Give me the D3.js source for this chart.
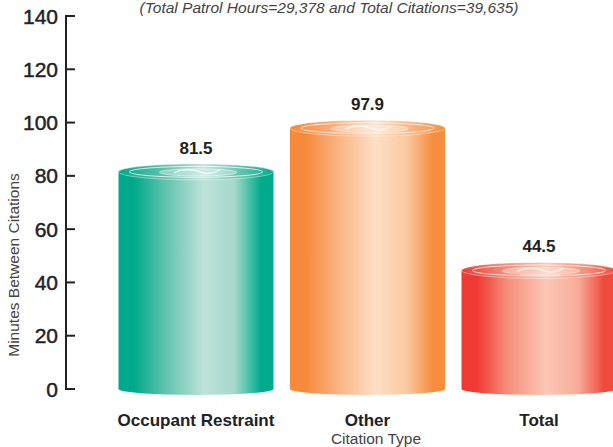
<!DOCTYPE html>
<html>
<head>
  <script src="https://cdn.jsdelivr.net/npm/d3@7"></script>
  <style>body { margin: 0; background: #fff } svg { display: block }</style>
</head>
<body>
  <div id="chart"></div>
  <script>
    // chart data
    const categories = ['Occupant Restraint', 'Other', 'Total'];
    const values = [81.5, 97.9, 44.5];
    const valueLabels = ['81.5', '97.9', '44.5'];
    const yTicks = [0, 20, 40, 60, 80, 100, 120, 140];
    const palettes = [
      ['#00a98b', '#5fc3ab', '#bde3d9', '#a4d8ca', '#00ab8c'],
      ['#f6893a', '#f9b17e', '#fddfc6', '#fbcaa2', '#f68d3f'],
      ['#ee3a33', '#f5907c', '#fbc8b6', '#f8ac99', '#ef4a3c']
    ];

    const width = 613, height = 447;
    const barW = 155, ryTop = 8, ryBot = 6;

    const svg = d3.select('#chart').append('svg')
      .attr('width', width).attr('height', height);

    const y = d3.scaleLinear().domain([0, 140]).range([389, 16]);
    const x = d3.scalePoint().domain(categories).range([196, 539]);

    const defs = svg.append('defs');
    palettes.forEach((p, i) => {
      const g = defs.append('linearGradient').attr('id', 'side' + i)
        .attr('x1', 0).attr('x2', 1).attr('y1', 0).attr('y2', 0);
      [[0, p[0]], [0.1, p[0]], [0.3, p[1]], [0.55, p[2]], [0.75, p[3]], [0.92, p[4]], [1, p[4]]]
        .forEach(s => g.append('stop').attr('offset', s[0]).attr('stop-color', s[1]));
      const t = defs.append('linearGradient').attr('id', 'top' + i)
        .attr('x1', 0).attr('x2', 1).attr('y1', 0).attr('y2', 0);
      [[0, p[0]], [0.3, p[1]], [0.55, p[2]], [0.8, p[1]], [1, p[4]]]
        .forEach(s => t.append('stop').attr('offset', s[0]).attr('stop-color', s[1]));
    });

    // y axis
    const axis = svg.append('g').attr('transform', 'translate(66,0)');
    axis.append('line').attr('x1', 0).attr('x2', 0)
      .attr('y1', y(140)).attr('y2', y(0))
      .attr('stroke', '#222').attr('stroke-width', 2);
    axis.selectAll('line.tick').data(yTicks).join('line')
      .attr('class', 'tick')
      .attr('x1', -1).attr('x2', 9)
      .attr('y1', d => y(d)).attr('y2', d => y(d))
      .attr('stroke', '#222').attr('stroke-width', 2);
    axis.selectAll('text').data(yTicks).join('text')
      .attr('x', -8).attr('y', d => y(d))
      .attr('dy', '0.36em')
      .attr('text-anchor', 'end')
      .attr('font-family', 'Liberation Sans, Arial, sans-serif')
      .attr('font-size', 21)
      .attr('fill', '#222')
      .attr('stroke', '#222').attr('stroke-width', 0.45)
      .text(d => d);

    // cylinders
    const bars = svg.selectAll('g.bar').data(categories).join('g').attr('class', 'bar');
    bars.each(function (c, i) {
      const g = d3.select(this);
      const cx = x(c), l = cx - barW / 2, r = cx + barW / 2, rx = barW / 2;
      const top = y(values[i]), bot = y(0);
      g.append('path')
        .attr('d', `M${l},${top} L${l},${bot} A${rx},${ryBot} 0 0 0 ${r},${bot} L${r},${top} Z`)
        .attr('fill', `url(#side${i})`);
      g.append('ellipse')
        .attr('cx', cx).attr('cy', top).attr('rx', rx).attr('ry', ryTop)
        .attr('fill', `url(#top${i})`)
        .attr('stroke', '#fff').attr('stroke-opacity', 0.5).attr('stroke-width', 0.8);
      g.append('ellipse')
        .attr('cx', cx).attr('cy', top).attr('rx', rx * 0.86).attr('ry', ryTop * 0.68)
        .attr('fill', 'none').attr('stroke', '#fff').attr('stroke-opacity', 0.75).attr('stroke-width', 1);
      g.append('ellipse')
        .attr('cx', cx + 2).attr('cy', top + 0.5).attr('rx', rx * 0.5).attr('ry', ryTop * 0.45)
        .attr('fill', '#fff').attr('fill-opacity', 0.3)
        .attr('stroke', '#fff').attr('stroke-opacity', 0.6).attr('stroke-width', 0.8);
      g.append('path')
        .attr('d', `M${cx - 22},${top + 1} q12,-6 26,-1 q10,4 20,-2`)
        .attr('fill', 'none').attr('stroke', '#fff').attr('stroke-opacity', 0.7).attr('stroke-width', 1.6);
      g.append('text')
        .attr('x', cx).attr('y', top - ryTop - 10)
        .attr('text-anchor', 'middle')
        .attr('font-family', 'Liberation Sans, Arial, sans-serif')
        .attr('font-weight', 'bold').attr('font-size', 17)
        .attr('fill', '#222')
        .text(valueLabels[i]);
    });

    // category labels
    svg.selectAll('text.cat').data(categories).join('text')
      .attr('class', 'cat')
      .attr('x', d => x(d)).attr('y', 426)
      .attr('text-anchor', 'middle')
      .attr('font-family', 'Liberation Sans, Arial, sans-serif')
      .attr('font-weight', 'bold').attr('font-size', 17)
      .attr('fill', '#222')
      .text(d => d);

    // titles
    svg.append('text')
      .attr('x', 376).attr('y', 444)
      .attr('text-anchor', 'middle')
      .attr('font-family', 'Liberation Sans, Arial, sans-serif')
      .attr('font-size', 15.5).attr('fill', '#444')
      .text('Citation Type');

    svg.append('text')
      .attr('transform', 'translate(19,265) rotate(-90)')
      .attr('text-anchor', 'middle')
      .attr('font-family', 'Liberation Sans, Arial, sans-serif')
      .attr('font-size', 15.5).attr('fill', '#444')
      .text('Minutes Between Citations');

    svg.append('text')
      .attr('x', 329).attr('y', 13)
      .attr('text-anchor', 'middle')
      .attr('font-family', 'Liberation Sans, Arial, sans-serif')
      .attr('font-style', 'italic')
      .attr('font-size', 15.5).attr('fill', '#444')
      .text('(Total Patrol Hours=29,378 and Total Citations=39,635)');
  </script>
</body>
</html>
